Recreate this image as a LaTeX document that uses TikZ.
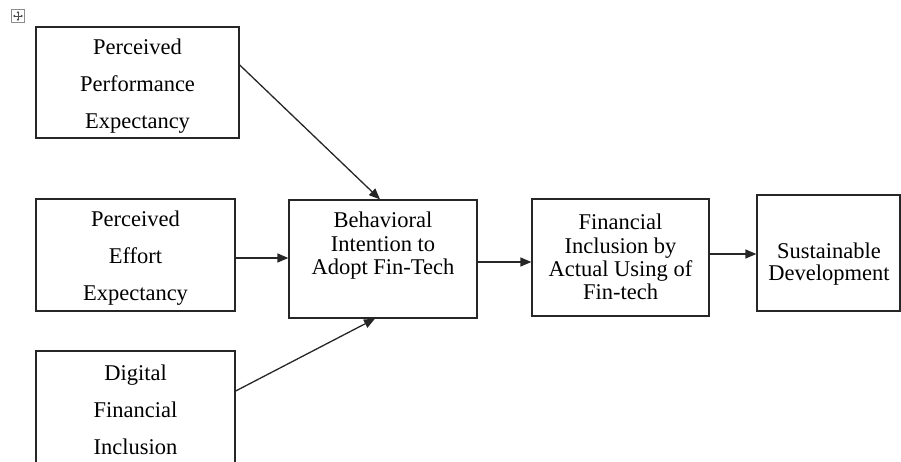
\documentclass[tikz,border=0pt]{standalone}
\usepackage{fontspec}
\setmainfont{Liberation Serif}
\usetikzlibrary{arrows.meta,calc}
\begin{document}
\begin{tikzpicture}[x=1pt,y=-1pt,
  box/.style={draw=black!85,line width=1.3pt,rectangle,inner sep=0pt},
  txt/.style={align=center,font=\fontsize{22.5}{#1}\selectfont,inner sep=0pt},
  txt/.default=37,
  arr/.style={draw=black!85,line width=1.3pt,-{Triangle[length=11pt,width=9pt]}}]
\useasboundingbox (0,0) rectangle (901,461);
\clip (0,0) rectangle (901,461);

% table move handle
\node[draw=black!45,line width=0.8pt,minimum width=13pt,minimum height=13pt,inner sep=0pt] (handle) at (18,16) {};
\draw[black!70,line width=0.8pt,{Triangle[length=2pt,width=2.5pt]}-{Triangle[length=2pt,width=2.5pt]}] ($(handle.west)+(2,0)$) -- ($(handle.east)+(-2,0)$);
\draw[black!70,line width=0.8pt,{Triangle[length=2pt,width=2.5pt]}-{Triangle[length=2pt,width=2.5pt]}] ($(handle.north)+(0,2)$) -- ($(handle.south)+(0,-2)$);

% boxes
\node[box,minimum width=203pt,minimum height=111pt] (perf) at (137.5,82.5) {};
\node[box,minimum width=199pt,minimum height=112pt] (effort) at (135.5,255) {};
\node[box,minimum width=199pt,minimum height=124pt] (digital) at (135.5,413) {};
\node[box,minimum width=188pt,minimum height=118pt] (intent) at (383,259) {};
\node[box,minimum width=177pt,minimum height=117pt] (actual) at (620.5,257.5) {};
\node[box,minimum width=143pt,minimum height=116pt] (sustain) at (828.5,253) {};

% texts
\node[txt] (tperf) at (137.5,86) {Perceived\\Performance\\Expectancy};
\node[txt] (teffort) at (135.5,258) {Perceived\\Effort\\Expectancy};
\node[txt] (tdigital) at (135.5,410) {Digital\\Financial\\Inclusion};
\node[txt=23.5] (tintent) at (383,246) {Behavioral\\Intention to\\Adopt Fin-Tech};
\node[txt=23.3] (tactual) at (620.5,257) {Financial\\Inclusion by\\Actual Using of\\Fin-tech};
\node[txt=22.5] (tsustain) at (829,264) {Sustainable\\Development};

% connectors
\draw[arr] ($(perf.east)+(-1,-18.5)$) -- ($(intent.north)+(-3,0)$);
\draw[arr] ($(effort.east)+(0,3)$) -- ($(intent.west)+(0,-1)$);
\draw[arr] ($(digital.east)+(0,-22)$) -- ($(intent.south)+(-8,0)$);
\draw[arr] ($(intent.east)+(0,3)$) -- ($(actual.west)+(0,4.5)$);
\draw[arr] ($(actual.east)+(0,-3.5)$) -- ($(sustain.west)+(0,1)$);
\end{tikzpicture}
\end{document}
